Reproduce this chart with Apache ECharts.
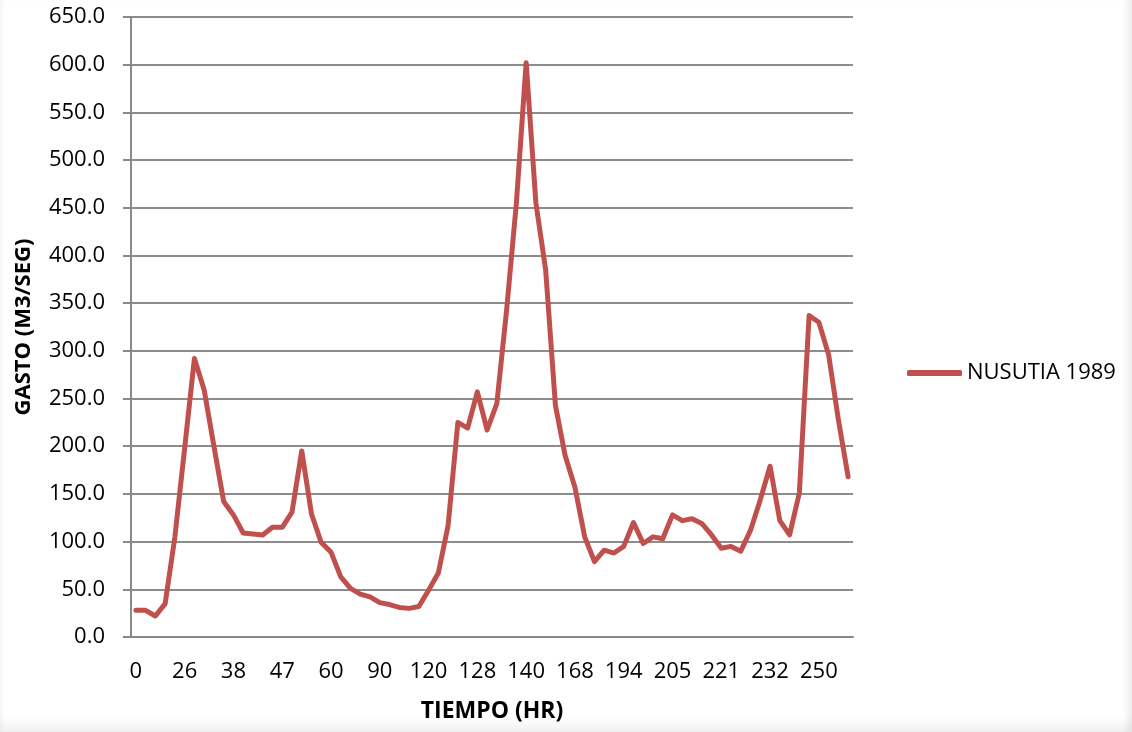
<!DOCTYPE html>
<html>
<head>
<meta charset="utf-8">
<script src="https://cdn.jsdelivr.net/npm/echarts@6/dist/echarts.min.js"></script>
<style>
  html, body { margin: 0; padding: 0; background: #fff; }
  #chart { width: 1132px; height: 732px; }
  #shade { position: absolute; left: 0; top: 0; width: 1132px; height: 732px; pointer-events: none;
    box-shadow: inset -9px 0 10px -6px rgba(0,0,0,0.10), inset 0 -14px 14px -8px rgba(0,0,0,0.07), inset 6px 0 6px -5px rgba(0,0,0,0.06); }
</style>
</head>
<body>
<div id="chart"></div>
<div id="shade"></div>
<script>
// Visible hour tick labels (every 5th category)
const hourLabels = ['0', '26', '38', '47', '60', '90', '120', '128', '140', '168', '194', '205', '221', '232', '250'];
// Discharge values (m3/s), one per category
const gasto = [
  28, 28, 22, 35, 105, 198, 292, 259, 200, 142,
  128, 109, 108, 107, 115, 115, 131, 195, 129, 99,
  89, 63, 51, 45, 42, 36, 34, 31, 30, 32,
  49, 67, 117, 225, 219, 257, 217, 245, 343, 455,
  602, 455, 385, 243, 190, 157, 105, 79, 91, 88,
  95, 120, 98, 105, 103, 128, 122, 124, 119, 107,
  93, 95, 90, 112, 144, 179, 122, 107, 151, 337,
  330, 296, 228, 168
];
const seriesName = 'NUSUTIA 1989';
const yTicks = { min: 0, max: 650, interval: 50 };

const categories = gasto.map((_, i) => String(i));
const FONT = 'Open Sans';

const chart = echarts.init(document.getElementById('chart'), null, { renderer: 'canvas' });
chart.setOption({
  backgroundColor: '#ffffff',
  animation: false,
  grid: { left: 131, right: 279, top: 17, bottom: 95, containLabel: false },
  legend: {
    left: 907, top: 362, padding: 0,
    itemWidth: 55, itemHeight: 6, icon: 'roundRect', itemGap: 5,
    textStyle: { fontFamily: FONT, fontSize: 22, color: '#000', padding: [0, 0, 0, 0] },
    data: [seriesName]
  },
  xAxis: {
    type: 'category',
    data: categories,
    boundaryGap: true,
    name: 'TIEMPO (HR)',
    nameLocation: 'middle',
    nameGap: 63,
    nameTextStyle: { fontFamily: FONT, fontSize: 23, fontWeight: 'bold', color: '#000' },
    axisLine: { lineStyle: { color: '#898989', width: 2 } },
    axisTick: { show: false },
    axisLabel: {
      interval: 4, margin: 24,
      fontFamily: FONT, fontSize: 22, color: '#000',
      formatter: (v, idx) => (idx % 5 === 0 ? hourLabels[idx / 5] : '')
    },
    splitLine: { show: false }
  },
  yAxis: {
    type: 'value',
    min: yTicks.min, max: yTicks.max, interval: yTicks.interval,
    name: 'GASTO (M3/SEG)',
    nameLocation: 'middle',
    nameGap: 96,
    nameTextStyle: { fontFamily: FONT, fontSize: 22, fontWeight: 'bold', color: '#000' },
    axisLine: { show: true, lineStyle: { color: '#898989', width: 2 } },
    axisTick: { show: true, length: 8, lineStyle: { color: '#898989', width: 2 } },
    axisLabel: {
      margin: 26, fontFamily: FONT, fontSize: 22, color: '#000',
      formatter: v => v.toFixed(1)
    },
    splitLine: { show: true, lineStyle: { color: '#8c8c8c', width: 2 } }
  },
  series: [{
    name: seriesName,
    type: 'line',
    data: gasto,
    symbol: 'none',
    smooth: false,
    color: '#C0504D',
    lineStyle: { color: '#C0504D', width: 5, cap: 'round', join: 'round' },
    itemStyle: { color: '#C0504D' }
  }]
});
</script>
</body>
</html>
